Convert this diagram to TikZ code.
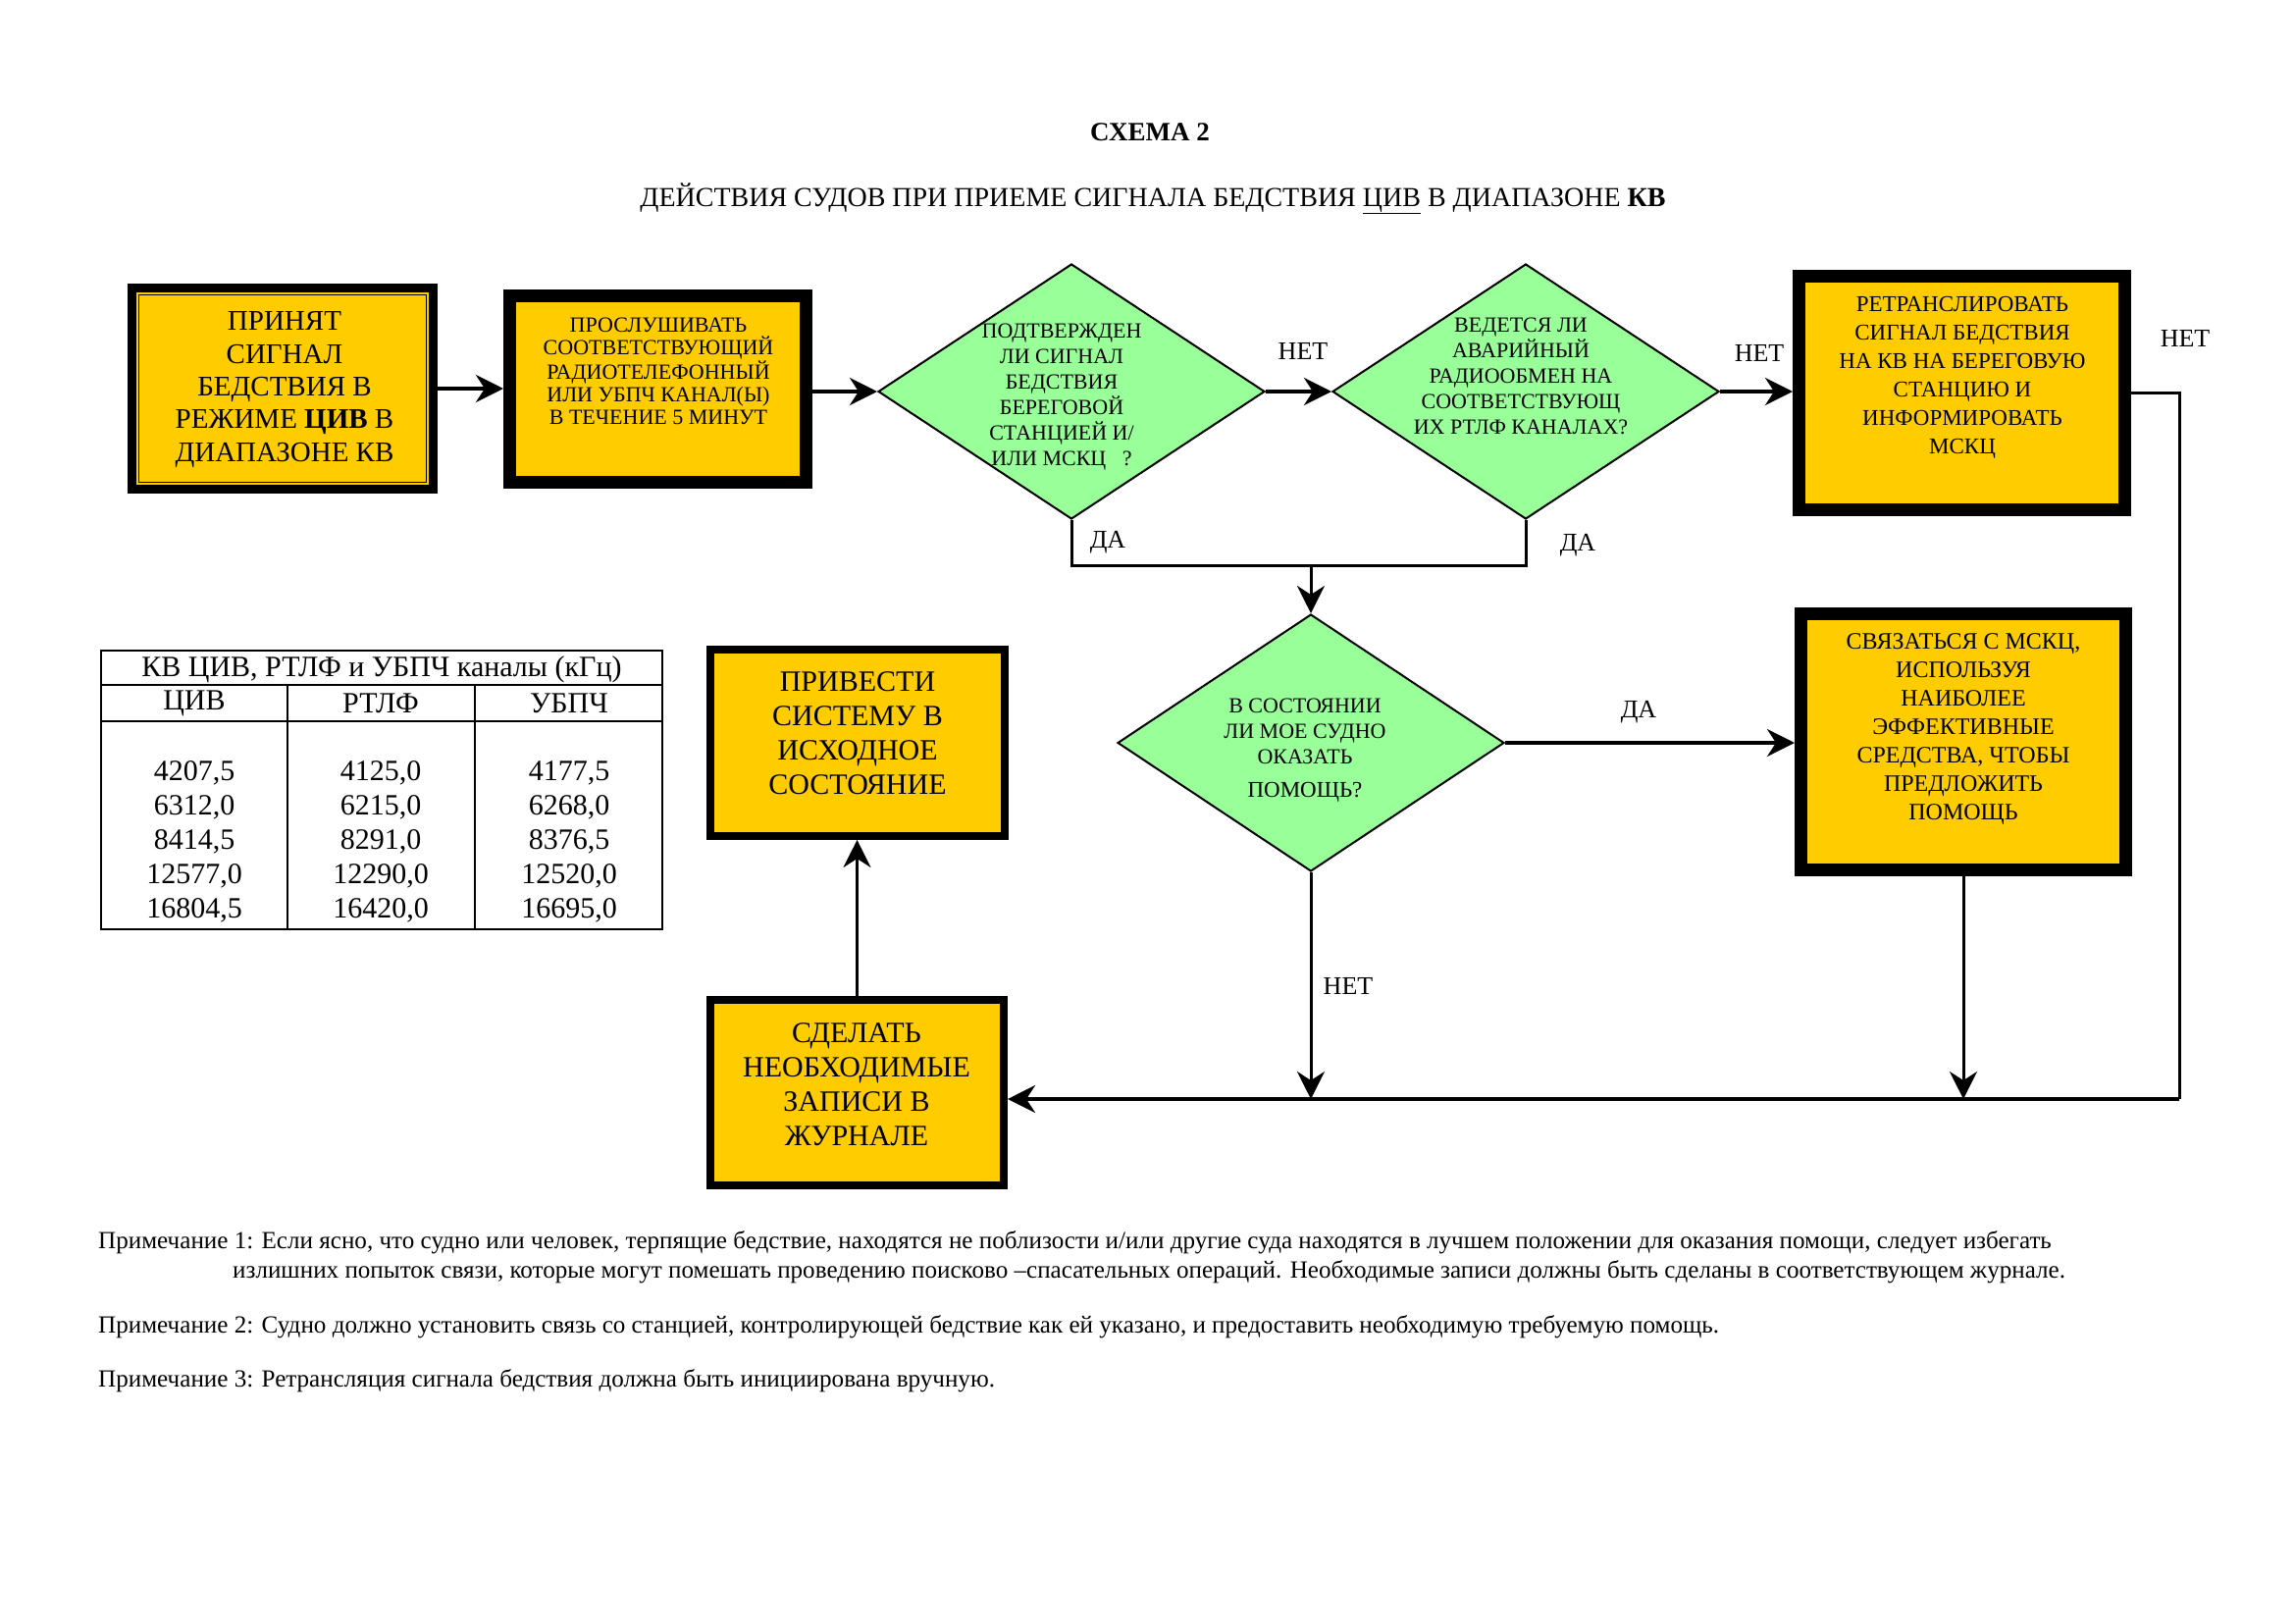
\documentclass[tikz,border=0pt]{standalone}
\usepackage{fontspec}
\setmainfont{Liberation Serif}
\usetikzlibrary{shapes.geometric,arrows.meta,calc}
\definecolor{boxy}{RGB}{255,204,0}
\definecolor{diag}{RGB}{153,255,153}
\newcommand{\fsz}[2]{\fontsize{#1}{#2}\selectfont}
\tikzset{
  box/.style={draw=black, fill=boxy, rectangle, inner sep=0pt},
  dia/.style={draw=black, line width=2pt, fill=diag, diamond, inner sep=0pt},
  txt/.style={align=center, inner sep=0pt, text=black},
  lbl/.style={inner sep=0pt, font=\fsz{26}{30}},
  arr/.style={-{Stealth[length=28pt,width=28pt,inset=9pt]}},
  thickln/.style={line width=4pt},
  thinln/.style={line width=3pt},
  tbl/.style={line width=1.5pt},
  note/.style={anchor=base west, inner sep=0pt, font=\fsz{25.1}{30}}
}
\begin{document}
\begin{tikzpicture}[x=1pt,y=-1pt]
\fill[white] (0,0) rectangle (2339,1654);
\useasboundingbox (0,0) rectangle (2339,1654);

% titles
\node[anchor=base, inner sep=0pt, font=\fsz{27}{32}\bfseries] (title) at (1172,143) {СХЕМА 2};
\node[anchor=base, inner sep=0pt, font=\fsz{28}{32}] (subtitle) at (1175,210)
  {ДЕЙСТВИЯ СУДОВ ПРИ ПРИЕМЕ СИГНАЛА БЕДСТВИЯ \underline{ЦИВ} В ДИАПАЗОНЕ \textbf{КВ}};

% boxes
\node[box, line width=9pt, minimum width=307pt, minimum height=205pt] (b1) at (288,396) {};
\draw[line width=1.5pt] ($(b1.north west)+(11.5,11.5)$) rectangle ($(b1.south east)+(-11.5,-11.5)$);
\node[box, line width=13pt, minimum width=302pt, minimum height=190pt] (b2) at (670.5,396.5) {};
\node[box, line width=13pt, minimum width=332pt, minimum height=238pt] (b3) at (1999.5,400.5) {};
\node[box, line width=13pt, minimum width=331pt, minimum height=261pt] (b4) at (2001,756) {};
\node[box, line width=8pt, minimum width=300pt, minimum height=190pt] (b5) at (874,757) {};
\node[box, line width=8pt, minimum width=299pt, minimum height=189pt] (b6) at (873.5,1113.5) {};

% diamonds
\node[dia, minimum width=394pt, minimum height=260pt] (d1) at (1092,399) {};
\node[dia, minimum width=394pt, minimum height=260pt] (d2) at (1555,399) {};
\node[dia, minimum width=394pt, minimum height=262pt] (d3) at (1336,757) {};

% texts
\node[txt, font=\fsz{29}{33.3}] (b1t) at (290,397)
  {ПРИНЯТ\\СИГНАЛ\\БЕДСТВИЯ В\\РЕЖИМЕ \textbf{ЦИВ} В\\ДИАПАЗОНЕ КВ};
\node[txt, font=\fsz{22}{23.3}] (b2t) at (671,378.5)
  {ПРОСЛУШИВАТЬ\\СООТВЕТСТВУЮЩИЙ\\РАДИОТЕЛЕФОННЫЙ\\ИЛИ УБПЧ КАНАЛ(Ы)\\В ТЕЧЕНИЕ 5 МИНУТ};
\node[txt, font=\fsz{22}{26}] (d1t) at (1082,405)
  {ПОДТВЕРЖДЕН\\ЛИ СИГНАЛ\\БЕДСТВИЯ\\БЕРЕГОВОЙ\\СТАНЦИЕЙ И/\\ИЛИ МСКЦ\ \ \ ?};
\node[txt, font=\fsz{22}{26}] (d2t) at (1550,383.5)
  {ВЕДЕТСЯ ЛИ\\АВАРИЙНЫЙ\\РАДИООБМЕН НА\\СООТВЕТСТВУЮЩ\\ИХ РТЛФ КАНАЛАХ?};
\node[txt, font=\fsz{23}{29}] (b3t) at (2000,384.5)
  {РЕТРАНСЛИРОВАТЬ\\СИГНАЛ БЕДСТВИЯ\\НА КВ НА БЕРЕГОВУЮ\\СТАНЦИЮ И\\ИНФОРМИРОВАТЬ\\МСКЦ};
\node[txt, font=\fsz{24}{29}] (b4t) at (2001,743.5)
  {СВЯЗАТЬСЯ С МСКЦ,\\ИСПОЛЬЗУЯ\\НАИБОЛЕЕ\\ЭФФЕКТИВНЫЕ\\СРЕДСТВА, ЧТОБЫ\\ПРЕДЛОЖИТЬ\\ПОМОЩЬ};
\node[txt, font=\fsz{30}{35}] (b5t) at (874,747.5)
  {ПРИВЕСТИ\\СИСТЕМУ В\\ИСХОДНОЕ\\СОСТОЯНИЕ};
\node[txt, font=\fsz{30}{35}] (b6t) at (873,1105)
  {СДЕЛАТЬ\\НЕОБХОДИМЫЕ\\ЗАПИСИ В\\ЖУРНАЛЕ};
\node[txt, font=\fsz{22}{26}] (d3t) at (1330,765)
  {В СОСТОЯНИИ\\ЛИ МОЕ СУДНО\\ОКАЗАТЬ\\[8pt]{\fsz{23}{26}ПОМОЩЬ?}};

% connectors
\coordinate (jn) at (1336,576);
\coordinate (rc) at (2221,1120);
\draw[thickln, arr] (b1.east) -- (b1.east -| b2.west);
\draw[thickln, arr] (b2.east |- d1.west) -- (d1.west);
\draw[thickln, arr] (d1.east) -- (d2.west);
\draw[thickln, arr] (d2.east) -- (d2.east -| b3.west);
\draw[thinln] (d1.south) |- (d2.south |- jn) -- (d2.south);
\draw[thinln, arr] (jn) -- (d3.north);
\draw[thickln, arr] (d3.east) -- (d3.east -| b4.west);
\draw[thinln] (b3.east) -| (rc);
\draw[thickln, arr] (rc) -- (rc -| b6.east);
\draw[thinln, arr] (d3.south) -- (d3.south |- rc);
\draw[thinln, arr] (b4.south) -- (b4.south |- rc);
\draw[thinln, arr] (b6.north) -- (b5.south -| b6.north);

% labels
\node[lbl] (l1) at (1328,358) {НЕТ};
\node[lbl] (l2) at (1793,360) {НЕТ};
\node[lbl] (l3) at (2227,345) {НЕТ};
\node[lbl] (l4) at (1129,553) {ДА};
\node[lbl] (l5) at (1608,556) {ДА};
\node[lbl] (l6) at (1670,726) {ДА};
\node[lbl] (l7) at (1374,1005) {НЕТ};

% table
\draw[tbl] (103,663) rectangle (675,947);
\draw[tbl] (103,698) -- (675,698);
\draw[tbl] (103,735) -- (675,735);
\draw[tbl] (293,698) -- (293,947);
\draw[tbl] (484,698) -- (484,947);
\node[txt, font=\fsz{30}{35}] (th) at (389,682) {КВ ЦИВ, РТЛФ и УБПЧ каналы (кГц)};
\node[txt, font=\fsz{30}{35}] (th1) at (198,717) {ЦИВ};
\node[txt, font=\fsz{30}{35}] (th2) at (388,717) {РТЛФ};
\node[txt, font=\fsz{30}{35}] (th3) at (580,717) {УБПЧ};
\node[txt, font=\fsz{30}{35}] (c1) at (198,858) {4207,5\\6312,0\\8414,5\\12577,0\\16804,5};
\node[txt, font=\fsz{30}{35}] (c2) at (388,858) {4125,0\\6215,0\\8291,0\\12290,0\\16420,0};
\node[txt, font=\fsz{30}{35}] (c3) at (580,858) {4177,5\\6268,0\\8376,5\\12520,0\\16695,0};

% notes
\node[note] (n1a) at (100,1272) {Примечание 1: Если ясно, что судно или человек, терпящие бедствие, находятся не поблизости и/или другие суда находятся в лучшем положении для оказания помощи, следует избегать};
\node[note] (n1b) at (237,1302) {излишних попыток связи, которые могут помешать проведению поисково –спасательных операций. Необходимые записи должны быть сделаны в соответствующем журнале.};
\node[note] (n2) at (100,1358) {Примечание 2: Судно должно установить связь со станцией, контролирующей бедствие как ей указано, и предоставить необходимую требуемую помощь.};
\node[note] (n3) at (100,1413) {Примечание 3: Ретрансляция сигнала бедствия должна быть инициирована вручную.};
\end{tikzpicture}
\end{document}
